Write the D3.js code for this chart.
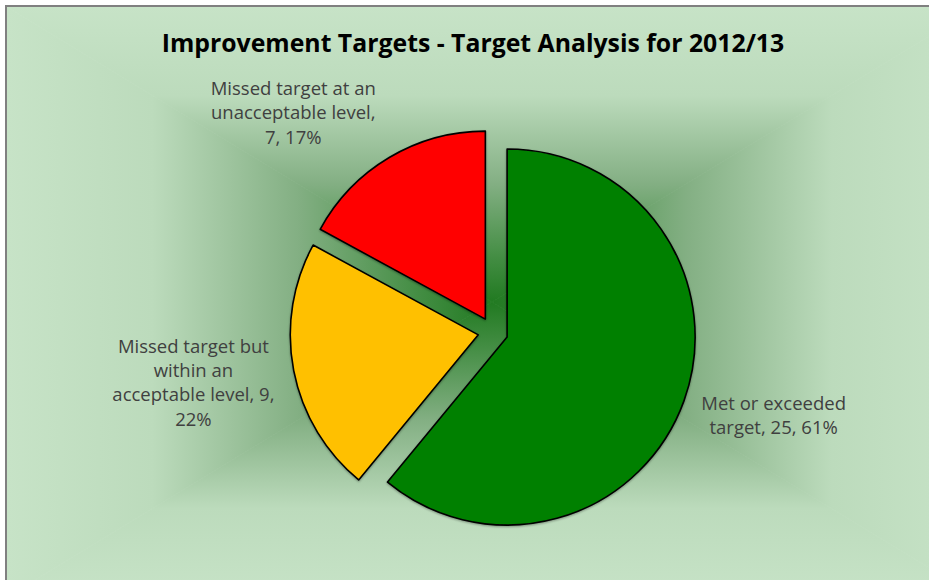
<!DOCTYPE html>
<html>
<head>
<meta charset="utf-8">
<script src="https://cdn.jsdelivr.net/npm/d3@7"></script>
<style>
  html, body { margin: 0; padding: 0; background: #ffffff; }
  svg { display: block; }
</style>
</head>
<body>
<div id="chart"></div>
<script>
// ---- data ----
const title = "Improvement Targets - Target Analysis for 2012/13";
const categories = ["Met or exceeded target", "Missed target but within an acceptable level", "Missed target at an unacceptable level"];
const values = [25, 9, 7];
const labelLines = [
  ["Met or exceeded", "target, 25, 61%"],
  ["Missed target but", "within an", "acceptable level, 9,", "22%"],
  ["Missed target at an", "unacceptable level,", "7, 17%"]
];
const colors = ["#008000", "#FFC000", "#FF0000"];

// ---- layout ----
const W = 929, H = 580;
const frame = {x: 7, y: 7, w: 970, h: 590};
const center = {x: 493, y: 332};
const radius = 188;
const explode = 15;
const labelRadius = 295;
const labelNudge = [[3, -16], [-10, -5], [-49, 35]];

const svg = d3.select("#chart").append("svg").attr("width", W).attr("height", H);
const defs = svg.append("defs");

// background: rectangular "path" gradient, built from four triangles
const gcx = frame.x + frame.w / 2, gcy = frame.y + frame.h / 2;
const stops = [[0, "#c7e3c7"], [0.3, "#bcdbbc"], [0.6, "#83af83"], [0.85, "#438d43"], [1, "#217a21"]];
const sides = [
  {id: "gT", pts: [[frame.x, frame.y], [frame.x + frame.w, frame.y], [gcx, gcy]], g: [gcx, frame.y, gcx, gcy]},
  {id: "gB", pts: [[frame.x, frame.y + frame.h], [frame.x + frame.w, frame.y + frame.h], [gcx, gcy]], g: [gcx, frame.y + frame.h, gcx, gcy]},
  {id: "gL", pts: [[frame.x, frame.y], [frame.x, frame.y + frame.h], [gcx, gcy]], g: [frame.x, gcy, gcx, gcy]},
  {id: "gR", pts: [[frame.x + frame.w, frame.y], [frame.x + frame.w, frame.y + frame.h], [gcx, gcy]], g: [frame.x + frame.w, gcy, gcx, gcy]}
];
sides.forEach(s => {
  const lg = defs.append("linearGradient").attr("id", s.id).attr("gradientUnits", "userSpaceOnUse")
    .attr("x1", s.g[0]).attr("y1", s.g[1]).attr("x2", s.g[2]).attr("y2", s.g[3]);
  stops.forEach(st => lg.append("stop").attr("offset", st[0]).attr("stop-color", st[1]));
  svg.append("polygon").attr("points", s.pts.map(p => p.join(",")).join(" "))
    .attr("fill", `url(#${s.id})`).attr("stroke", `url(#${s.id})`).attr("stroke-width", 0.8);
});
// frame border
svg.append("rect").attr("x", frame.x - 1).attr("y", frame.y - 1).attr("width", frame.w).attr("height", frame.h)
  .attr("fill", "none").attr("stroke", "#808080").attr("stroke-width", 2);

// shadow filter
const f = defs.append("filter").attr("id", "sh").attr("x", "-10%").attr("y", "-10%").attr("width", "120%").attr("height", "120%");
f.append("feDropShadow").attr("dx", 0).attr("dy", 1).attr("stdDeviation", 1.2).attr("flood-color", "#000").attr("flood-opacity", 0.35);

// title
svg.append("text").attr("x", 473).attr("y", 52).attr("text-anchor", "middle")
  .attr("font-family", "'Open Sans', sans-serif").attr("font-weight", "bold").attr("font-size", 24.8)
  .attr("fill", "#000").text(title);

// pie
const pie = d3.pie().sort(null).value(d => d)(values);
const arc = d3.arc().innerRadius(0).outerRadius(radius);
const total = d3.sum(values);

const g = svg.append("g").attr("transform", `translate(${center.x},${center.y})`);
pie.forEach((d, i) => {
  const mid = (d.startAngle + d.endAngle) / 2;
  const ox = Math.sin(mid) * explode, oy = -Math.cos(mid) * explode;
  g.append("path").attr("d", arc(d)).attr("transform", `translate(${ox},${oy})`)
    .attr("fill", colors[i]).attr("stroke", "#000").attr("stroke-width", 1.6)
    .attr("stroke-linejoin", "round").attr("filter", "url(#sh)");

  const lx = Math.sin(mid) * labelRadius + labelNudge[i][0];
  const ly = -Math.cos(mid) * labelRadius + labelNudge[i][1];
  const lines = labelLines[i];
  const lh = 24.3;
  const t = g.append("text").attr("text-anchor", "middle")
    .attr("font-family", "'Open Sans', sans-serif").attr("font-size", 18.5).attr("fill", "#404040");
  lines.forEach((ln, k) => {
    t.append("tspan").attr("x", lx).attr("y", ly + (k - (lines.length - 1) / 2) * lh + 6).text(ln);
  });
});
</script>
</body>
</html>
